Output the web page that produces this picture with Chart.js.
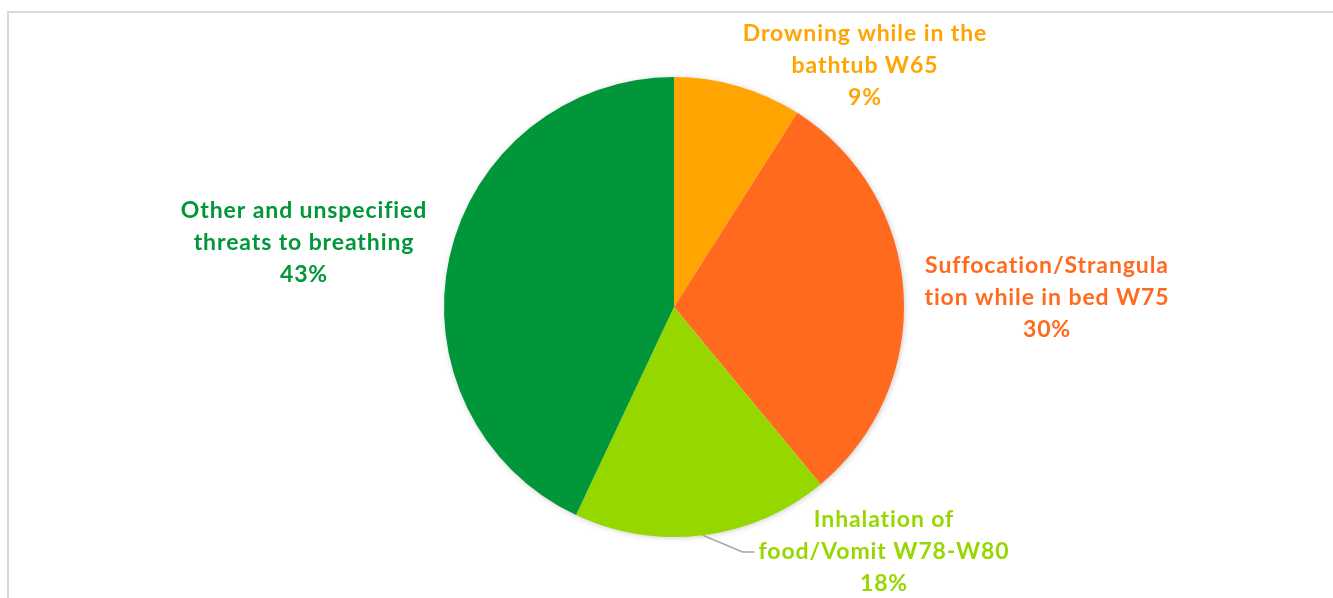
<!DOCTYPE html>
<html>
<head>
<meta charset="utf-8">
<script src="https://cdn.jsdelivr.net/npm/chart.js@4.4.1/dist/chart.umd.min.js"></script>
<style>
  html, body { margin: 0; padding: 0; background: #fff; overflow: hidden; }
  #wrap { position: relative; width: 1333px; height: 598px; }
  #frame { position: absolute; left: 7px; top: 11px; width: 1340px; height: 600px;
           border: 2px solid #d9d9d9; box-sizing: border-box; }
  #chartCanvas { position: absolute; left: 0; top: 0; }
</style>
</head>
<body>
<div id="wrap">
  <div id="frame"></div>
  <canvas id="chartCanvas" width="1333" height="598"></canvas>
</div>
<script>
/* DATA */
const categories = [
  ["Drowning while in the", "bathtub W65"],
  ["Suffocation/Strangula", "tion while in bed W75"],
  ["Inhalation of", "food/Vomit W78-W80"],
  ["Other and unspecified", "threats to breathing"]
];
const percents = [9, 30, 18, 43];

/* STYLE */
const colors = ["#FFA400", "#FF6A1F", "#97D700", "#009639"];
// label block centre, relative to pie centre
const labelOffsets = [[191, -241], [373, -9], [210, 245], [-370, -64]];
const leaderLines = [false, false, true, false];
const FONT = "bold 23px Lato, 'Open Sans', sans-serif";
const LINE_H = 32;

/* LABEL PLUGIN */
const outsideLabels = {
  id: "outsideLabels",
  beforeDatasetsDraw(chart) {
    const ctx = chart.ctx;
    ctx.save();
    ctx.shadowColor = "rgba(0,0,0,0.25)";
    ctx.shadowBlur = 6;
    ctx.shadowOffsetX = 1;
    ctx.shadowOffsetY = 1;
    const arc = chart.getDatasetMeta(0).data[0];
    ctx.beginPath();
    ctx.arc(arc.x, arc.y, arc.outerRadius - 1, 0, Math.PI * 2);
    ctx.fillStyle = "#fff";
    ctx.fill();
    ctx.restore();
  },
  afterDatasetsDraw(chart) {
    const ctx = chart.ctx;
    const arcs = chart.getDatasetMeta(0).data;
    ctx.save();
    ctx.font = FONT;
    ctx.letterSpacing = "0.9px";
    ctx.textAlign = "center";
    ctx.textBaseline = "middle";
    arcs.forEach((arc, i) => {
      const lines = categories[i].concat([percents[i] + "%"]);
      const cx = arc.x + labelOffsets[i][0];
      const cy = arc.y + labelOffsets[i][1];
      const top = cy - LINE_H * (lines.length - 1) / 2;

      if (leaderLines[i]) {
        const mid = (arc.startAngle + arc.endAngle) / 2;
        const sx = arc.x + Math.cos(mid) * arc.outerRadius;
        const sy = arc.y + Math.sin(mid) * arc.outerRadius;
        const w = ctx.measureText(lines[1]).width;
        const ex = cx - w / 2 - 4;
        const ey = top + LINE_H;
        ctx.strokeStyle = "#a6a6a6";
        ctx.lineWidth = 1.5;
        ctx.beginPath();
        ctx.moveTo(sx, sy);
        ctx.lineTo(ex - 12, ey);
        ctx.lineTo(ex, ey);
        ctx.stroke();
      }

      ctx.fillStyle = colors[i];
      lines.forEach((t, k) => ctx.fillText(t, cx, top + k * LINE_H));
    });
    ctx.restore();
  }
};

/* CHART */
new Chart(document.getElementById("chartCanvas").getContext("2d"), {
  type: "pie",
  data: {
    labels: categories.map(c => c.join(" ")),
    datasets: [{
      data: percents,
      backgroundColor: colors,
      borderWidth: 0
    }]
  },
  options: {
    responsive: false,
    animation: false,
    layout: { padding: { top: 77, bottom: 61, left: 444, right: 429 } },
    plugins: { legend: { display: false }, tooltip: { enabled: false } }
  },
  plugins: [outsideLabels]
});
</script>
</body>
</html>
